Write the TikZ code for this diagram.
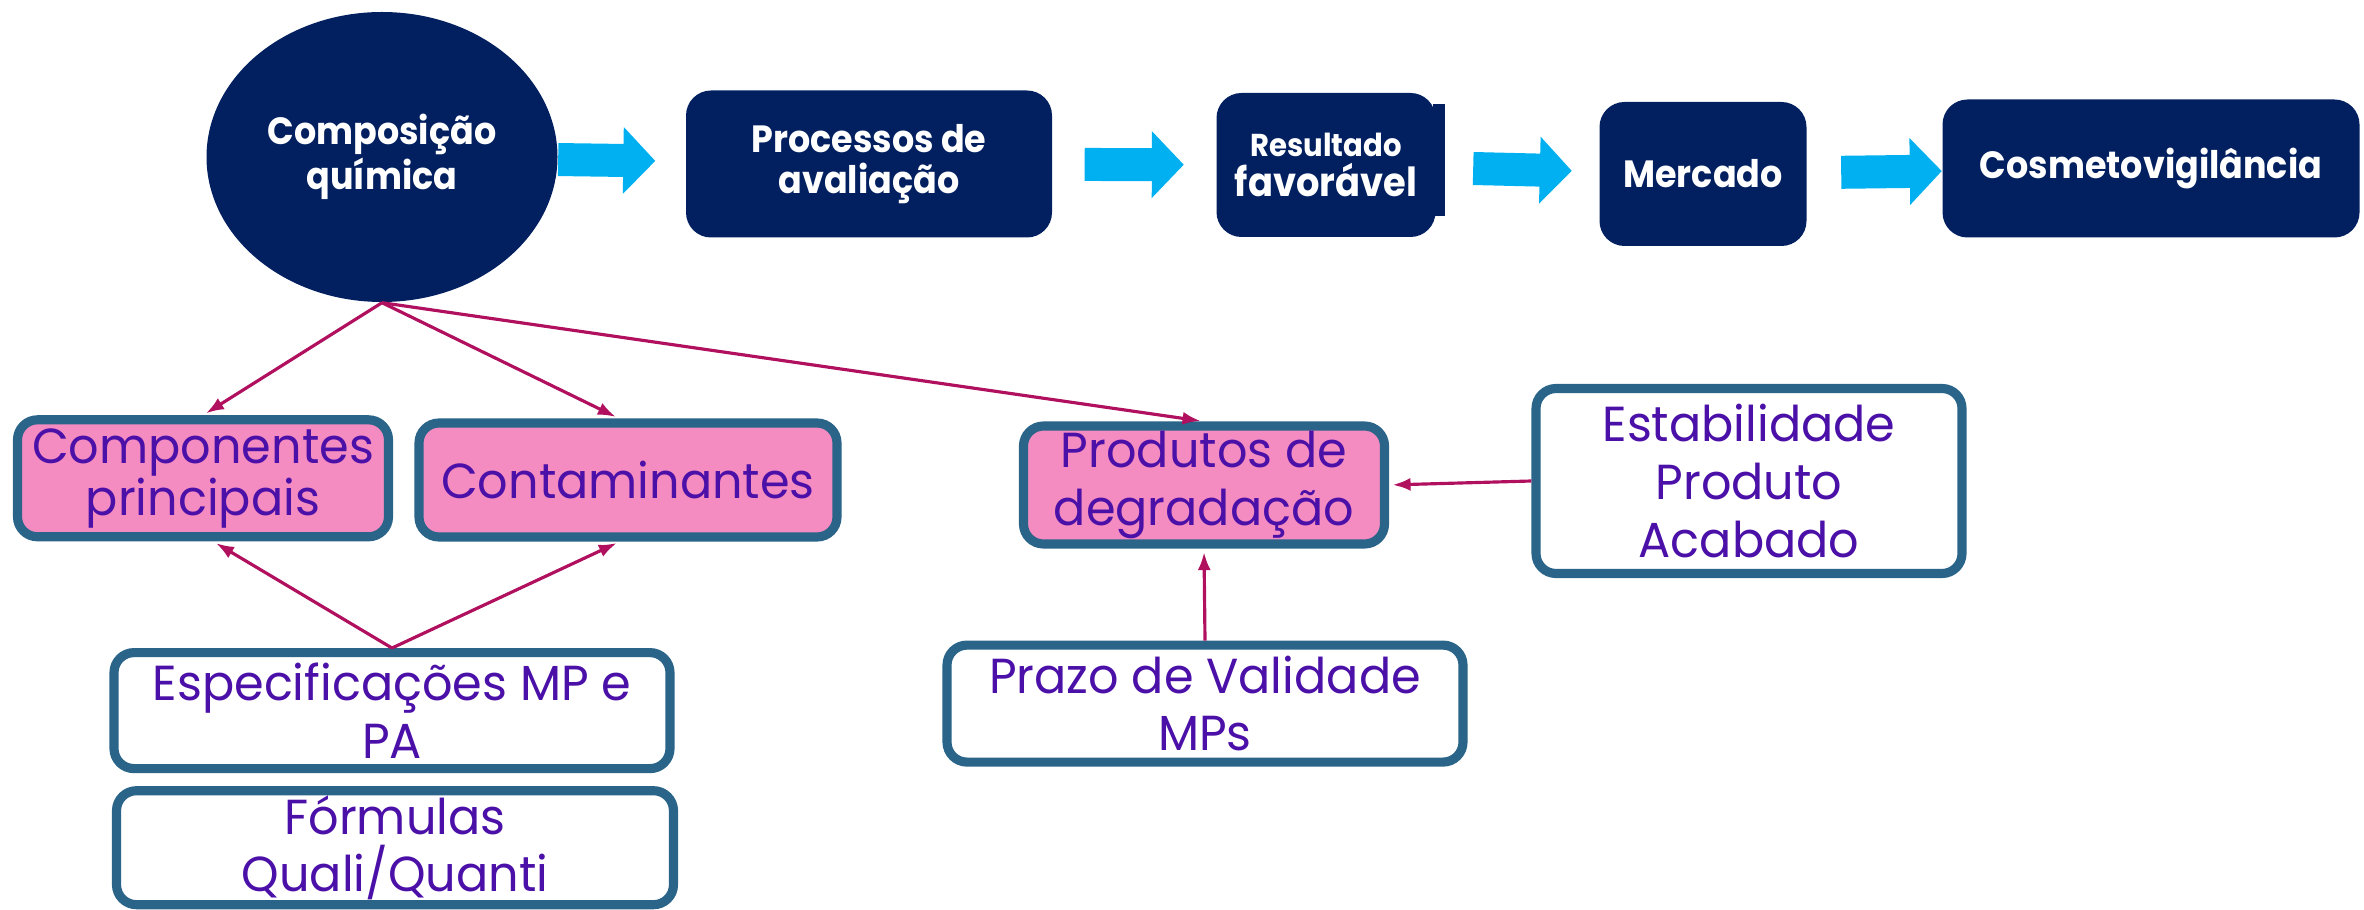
\documentclass[tikz,border=0pt]{standalone}
\usepackage{fontspec}
\setmainfont{Poppins}[FakeStretch=0.97, BoldFeatures={FakeStretch=0.92}]
\usetikzlibrary{arrows.meta,shapes.geometric}
\definecolor{navyblue}{HTML}{022060}
\definecolor{arrowcyan}{HTML}{00B0F0}
\definecolor{boxpink}{HTML}{F48BC1}
\definecolor{boxedge}{HTML}{2A6489}
\definecolor{txtpurple}{HTML}{4B10A8}
\definecolor{linkred}{HTML}{B0105E}

\begin{document}
\begin{tikzpicture}[
  navy/.style={fill=navyblue, text=white, align=center, inner sep=0pt,
    font=\bfseries\fontsize{10.8}{11.6}\selectfont},
  navybox/.style={navy, rounded corners=0.25cm},
  pinkbox/.style={draw=boxedge, fill=boxpink, line width=2.6pt, rounded corners=0.2cm,
    text=txtpurple, align=center, inner sep=0pt, font=\fontsize{14}{16.4}\selectfont},
  whitebox/.style={pinkbox, fill=white},
  bigarr/.style={arrowcyan, line width=0.33cm, -{Triangle[length=0.32cm,width=0.65cm]}},
  link/.style={linkred, line width=0.9pt, shorten >=1pt, -{Latex[length=0.18cm,width=0.13cm]}}]
  \useasboundingbox (0,0) rectangle (23.64,9.09);
  \node[navy, ellipse, minimum width=3.51cm, minimum height=2.90cm] (comp) at (3.82,7.52) {Composição\\química};
  \node[navybox, minimum width=3.66cm, minimum height=1.47cm] (proc) at (8.69,7.45) {Processos de\\avaliação};
  \node[navybox, minimum width=2.19cm, minimum height=1.44cm] (res) at (13.26,7.44) {{\fontsize{9}{10}\selectfont Resultado}\\{\fontsize{11.4}{12}\selectfont favorável}};
  \fill[navyblue] (14.33,6.93) rectangle (14.45,8.05);
  \node[navybox, minimum width=2.07cm, minimum height=1.44cm] (merc) at (17.03,7.35) {Mercado};
  \node[navybox, minimum width=4.17cm, minimum height=1.38cm] (cosm) at (21.51,7.405) {Cosmetovigilância};
  \node[pinkbox, minimum width=3.71cm, minimum height=1.17cm, font=\fontsize{14}{14.8}\selectfont] (princ) at (2.03,4.307) {Componentes\\principais};
  \node[pinkbox, minimum width=4.18cm, minimum height=1.14cm] (cont) at (6.28,4.29) {Contaminantes};
  \node[pinkbox, minimum width=3.61cm, minimum height=1.18cm] (degr) at (12.04,4.24) {Produtos de\\degradação};
  \node[whitebox, minimum width=4.26cm, minimum height=1.85cm] (estab) at (17.49,4.28) {Estabilidade\\Produto\\Acabado};
  \node[whitebox, minimum width=5.56cm, minimum height=1.16cm] (espec) at (3.92,1.984) {Especificações MP e\\PA};
  \node[whitebox, minimum width=5.57cm, minimum height=1.14cm] (form) at (3.95,0.613) {Fórmulas\\Quali/Quanti};
  \node[whitebox, minimum width=5.16cm, minimum height=1.17cm] (prazo) at (12.05,2.054) {Prazo de Validade\\MPs};
  \draw[bigarr, shorten >=0.3cm] (comp) -- (proc);
  \draw[bigarr, shorten <=0.32cm, shorten >=0.32cm] (proc) -- (res);
  \draw[bigarr, shorten <=0.37cm, shorten >=0.27cm] (res) -- (merc);
  \draw[bigarr, shorten <=0.34cm] (merc) -- (cosm);
  \draw[link] (comp.south) -- (princ.north);
  \draw[link] (comp.south) -- ([xshift=-0.09cm]cont.north);
  \draw[link] (comp.south) -- (degr.north);
  \draw[link] (espec.north) -- ([xshift=0.1cm]princ.south);
  \draw[link] (espec.north) -- ([xshift=-0.08cm]cont.south);
  \draw[link] (estab.west) -- (degr.east);
  \draw[link] (prazo.north) -- (degr.south);
\end{tikzpicture}
\end{document}
